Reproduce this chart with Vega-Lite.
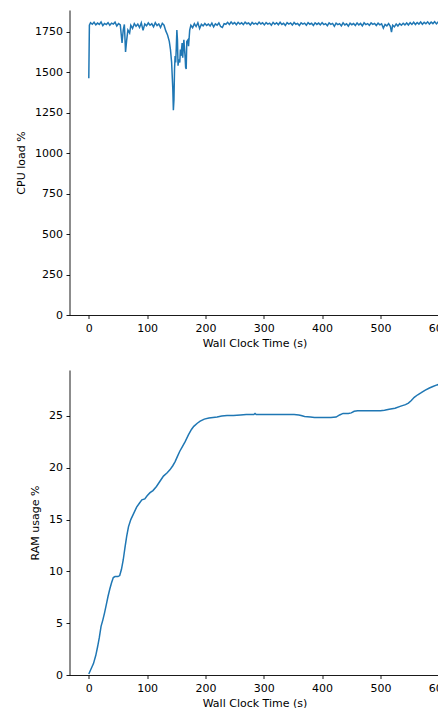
{
  "$schema": "https://vega.github.io/schema/vega-lite/v6.json",
  "padding": {"left": 15.5, "top": 10, "right": 0, "bottom": 0},
  "bounds": "flush",
  "spacing": 55,
  "config": {
    "view": {"stroke": null},
    "font": "DejaVu Sans",
    "axis": {
      "grid": false,
      "domainColor": "#000000",
      "tickColor": "#000000",
      "labelColor": "#000000",
      "titleColor": "#000000",
      "labelFont": "DejaVu Sans",
      "titleFont": "DejaVu Sans",
      "labelFontSize": 11,
      "titleFontSize": 11,
      "titleFontWeight": "normal",
      "tickSize": 3.5,
      "tickWidth": 0.9,
      "domainWidth": 0.9,
      "labelPadding": 3.5,
      "labelFlush": false,
      "format": "d"
    }
  },
  "datasets": {
    "cpu": [
      {"t":0,"v":1462},{"t":1,"v":1790},{"t":3,"v":1805},{"t":6,"v":1796},{"t":9,"v":1808},{"t":12,"v":1792},{"t":15,"v":1803},{"t":18,"v":1795},{"t":21,"v":1810},{"t":24,"v":1788},{"t":27,"v":1801},{"t":30,"v":1794},{"t":33,"v":1806},{"t":36,"v":1790},{"t":39,"v":1803},{"t":42,"v":1797},{"t":45,"v":1809},{"t":48,"v":1785},{"t":51,"v":1800},{"t":54,"v":1792},{"t":57,"v":1680},{"t":59,"v":1760},{"t":61,"v":1795},{"t":63,"v":1625},{"t":65,"v":1700},{"t":67,"v":1760},{"t":70,"v":1742},{"t":72,"v":1790},{"t":75,"v":1770},{"t":78,"v":1800},{"t":81,"v":1784},{"t":84,"v":1797},{"t":87,"v":1776},{"t":90,"v":1805},{"t":93,"v":1758},{"t":96,"v":1798},{"t":99,"v":1786},{"t":102,"v":1804},{"t":105,"v":1790},{"t":108,"v":1799},{"t":111,"v":1780},{"t":114,"v":1806},{"t":117,"v":1788},{"t":120,"v":1798},{"t":123,"v":1776},{"t":126,"v":1802},{"t":129,"v":1790},{"t":132,"v":1755},{"t":135,"v":1730},{"t":138,"v":1690},{"t":140,"v":1640},{"t":142,"v":1560},{"t":144,"v":1400},{"t":145,"v":1265},{"t":146,"v":1330},{"t":147,"v":1520},{"t":148,"v":1600},{"t":149,"v":1560},{"t":150,"v":1650},{"t":151,"v":1760},{"t":152,"v":1700},{"t":153,"v":1540},{"t":154,"v":1580},{"t":156,"v":1560},{"t":157,"v":1640},{"t":158,"v":1600},{"t":160,"v":1680},{"t":161,"v":1590},{"t":163,"v":1700},{"t":164,"v":1650},{"t":165,"v":1600},{"t":166,"v":1530},{"t":167,"v":1520},{"t":168,"v":1690},{"t":170,"v":1700},{"t":171,"v":1660},{"t":173,"v":1760},{"t":175,"v":1790},{"t":178,"v":1775},{"t":181,"v":1800},{"t":184,"v":1782},{"t":187,"v":1805},{"t":190,"v":1770},{"t":193,"v":1796},{"t":196,"v":1786},{"t":199,"v":1801},{"t":202,"v":1789},{"t":205,"v":1797},{"t":208,"v":1785},{"t":211,"v":1803},{"t":214,"v":1780},{"t":217,"v":1798},{"t":220,"v":1790},{"t":223,"v":1804},{"t":226,"v":1782},{"t":229,"v":1776},{"t":232,"v":1800},{"t":235,"v":1796},{"t":238,"v":1808},{"t":241,"v":1795},{"t":244,"v":1810},{"t":247,"v":1798},{"t":250,"v":1806},{"t":253,"v":1793},{"t":256,"v":1808},{"t":259,"v":1797},{"t":262,"v":1805},{"t":265,"v":1794},{"t":268,"v":1809},{"t":271,"v":1799},{"t":274,"v":1804},{"t":277,"v":1791},{"t":280,"v":1807},{"t":283,"v":1797},{"t":286,"v":1803},{"t":289,"v":1795},{"t":292,"v":1809},{"t":295,"v":1798},{"t":298,"v":1805},{"t":301,"v":1792},{"t":304,"v":1806},{"t":307,"v":1797},{"t":310,"v":1803},{"t":313,"v":1790},{"t":316,"v":1807},{"t":319,"v":1796},{"t":322,"v":1805},{"t":325,"v":1793},{"t":328,"v":1808},{"t":331,"v":1795},{"t":334,"v":1802},{"t":337,"v":1789},{"t":340,"v":1806},{"t":343,"v":1797},{"t":346,"v":1804},{"t":349,"v":1791},{"t":352,"v":1807},{"t":355,"v":1796},{"t":358,"v":1801},{"t":361,"v":1788},{"t":364,"v":1805},{"t":367,"v":1797},{"t":370,"v":1803},{"t":373,"v":1790},{"t":376,"v":1806},{"t":379,"v":1796},{"t":382,"v":1802},{"t":385,"v":1789},{"t":388,"v":1805},{"t":391,"v":1795},{"t":394,"v":1803},{"t":397,"v":1792},{"t":400,"v":1806},{"t":403,"v":1794},{"t":406,"v":1800},{"t":409,"v":1787},{"t":412,"v":1804},{"t":415,"v":1795},{"t":418,"v":1801},{"t":421,"v":1783},{"t":424,"v":1803},{"t":427,"v":1794},{"t":430,"v":1800},{"t":433,"v":1786},{"t":436,"v":1805},{"t":439,"v":1792},{"t":442,"v":1799},{"t":445,"v":1784},{"t":448,"v":1803},{"t":451,"v":1793},{"t":454,"v":1800},{"t":457,"v":1788},{"t":460,"v":1804},{"t":463,"v":1792},{"t":466,"v":1801},{"t":469,"v":1786},{"t":472,"v":1805},{"t":475,"v":1794},{"t":478,"v":1800},{"t":481,"v":1789},{"t":484,"v":1804},{"t":487,"v":1795},{"t":490,"v":1801},{"t":493,"v":1788},{"t":496,"v":1803},{"t":499,"v":1792},{"t":502,"v":1799},{"t":505,"v":1772},{"t":508,"v":1795},{"t":511,"v":1786},{"t":514,"v":1800},{"t":517,"v":1783},{"t":519,"v":1748},{"t":521,"v":1790},{"t":524,"v":1780},{"t":527,"v":1798},{"t":530,"v":1785},{"t":533,"v":1800},{"t":536,"v":1790},{"t":539,"v":1802},{"t":542,"v":1792},{"t":545,"v":1804},{"t":548,"v":1791},{"t":551,"v":1806},{"t":554,"v":1795},{"t":557,"v":1808},{"t":560,"v":1794},{"t":563,"v":1807},{"t":566,"v":1797},{"t":569,"v":1810},{"t":572,"v":1796},{"t":575,"v":1808},{"t":578,"v":1799},{"t":581,"v":1811},{"t":584,"v":1797},{"t":587,"v":1809},{"t":590,"v":1800},{"t":593,"v":1812},{"t":596,"v":1798},{"t":599,"v":1810},{"t":602,"v":1801},{"t":605,"v":1809},{"t":608,"v":1800}
    ],
    "ram": [
      {"t":0,"v":0.1},{"t":4,"v":0.6},{"t":8,"v":1.1},{"t":12,"v":1.9},{"t":15,"v":2.7},{"t":18,"v":3.6},{"t":21,"v":4.7},{"t":24,"v":5.3},{"t":27,"v":6.0},{"t":30,"v":6.8},{"t":33,"v":7.6},{"t":36,"v":8.3},{"t":39,"v":8.9},{"t":42,"v":9.4},{"t":45,"v":9.5},{"t":50,"v":9.5},{"t":53,"v":9.6},{"t":56,"v":10.2},{"t":59,"v":11.1},{"t":62,"v":12.3},{"t":65,"v":13.4},{"t":68,"v":14.3},{"t":72,"v":15.0},{"t":77,"v":15.6},{"t":82,"v":16.2},{"t":87,"v":16.6},{"t":91,"v":16.9},{"t":96,"v":17.0},{"t":100,"v":17.3},{"t":105,"v":17.6},{"t":110,"v":17.8},{"t":116,"v":18.2},{"t":122,"v":18.7},{"t":128,"v":19.2},{"t":134,"v":19.5},{"t":139,"v":19.8},{"t":144,"v":20.2},{"t":148,"v":20.6},{"t":152,"v":21.1},{"t":156,"v":21.6},{"t":160,"v":22.0},{"t":165,"v":22.5},{"t":171,"v":23.2},{"t":176,"v":23.7},{"t":180,"v":24.0},{"t":186,"v":24.3},{"t":191,"v":24.5},{"t":198,"v":24.7},{"t":206,"v":24.8},{"t":213,"v":24.85},{"t":220,"v":24.9},{"t":228,"v":25.0},{"t":237,"v":25.05},{"t":248,"v":25.05},{"t":260,"v":25.1},{"t":270,"v":25.15},{"t":283,"v":25.15},{"t":285,"v":25.25},{"t":287,"v":25.15},{"t":300,"v":25.15},{"t":320,"v":25.15},{"t":340,"v":25.15},{"t":352,"v":25.15},{"t":360,"v":25.1},{"t":364,"v":25.05},{"t":370,"v":24.95},{"t":380,"v":24.9},{"t":387,"v":24.85},{"t":400,"v":24.85},{"t":415,"v":24.85},{"t":424,"v":24.9},{"t":430,"v":25.1},{"t":436,"v":25.25},{"t":445,"v":25.25},{"t":450,"v":25.3},{"t":455,"v":25.45},{"t":461,"v":25.5},{"t":480,"v":25.5},{"t":500,"v":25.5},{"t":507,"v":25.55},{"t":515,"v":25.65},{"t":525,"v":25.75},{"t":535,"v":25.95},{"t":543,"v":26.1},{"t":548,"v":26.25},{"t":553,"v":26.5},{"t":558,"v":26.8},{"t":564,"v":27.05},{"t":570,"v":27.25},{"t":577,"v":27.5},{"t":584,"v":27.7},{"t":590,"v":27.85},{"t":597,"v":28.0},{"t":603,"v":28.1},{"t":608,"v":28.2}
    ]
  },
  "vconcat": [
    {
      "width": 370,
      "height": 305,
      "data": {"name": "cpu"},
      "mark": {"type": "line", "color": "#1f77b4", "strokeWidth": 1.5, "clip": true},
      "encoding": {
        "x": {"field": "t", "type": "quantitative", "title": "Wall Clock Time (s)",
              "scale": {"domain": [-33.1, 601.3], "nice": false, "zero": false},
              "axis": {"values": [0, 100, 200, 300, 400, 500, 600], "titlePadding": 4}},
        "y": {"field": "v", "type": "quantitative", "title": "CPU load %",
              "scale": {"domain": [0, 1884], "nice": false},
              "axis": {"values": [0, 250, 500, 750, 1000, 1250, 1500, 1750], "titlePadding": 8}}
      }
    },
    {
      "width": 370,
      "height": 305,
      "data": {"name": "ram"},
      "mark": {"type": "line", "color": "#1f77b4", "strokeWidth": 1.5, "clip": true},
      "encoding": {
        "x": {"field": "t", "type": "quantitative", "title": "Wall Clock Time (s)",
              "scale": {"domain": [-33.1, 601.3], "nice": false, "zero": false},
              "axis": {"values": [0, 100, 200, 300, 400, 500, 600], "titlePadding": 4}},
        "y": {"field": "v", "type": "quantitative", "title": "RAM usage %",
              "scale": {"domain": [0, 29.44], "nice": false},
              "axis": {"values": [0, 5, 10, 15, 20, 25], "titlePadding": 8}}
      }
    }
  ]
}
